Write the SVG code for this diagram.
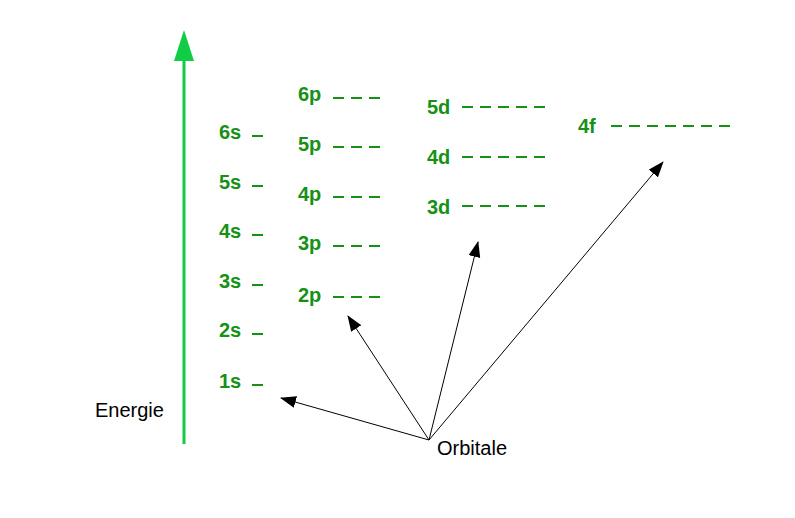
<svg xmlns="http://www.w3.org/2000/svg" width="795" height="518" viewBox="0 0 795 518">
<style>
.l{font-family:"Liberation Sans",Arial,sans-serif;font-weight:bold;font-size:20px;fill:#169116}
.d{stroke:#169116;stroke-width:2;stroke-dasharray:11 7}
.t{font-family:"Liberation Sans",Arial,sans-serif;font-size:20px;fill:#000}
.c{stroke:#000;stroke-width:1;marker-end:url(#ah)}
</style>
<defs>
<marker id="ah" markerWidth="16" markerHeight="12" refX="15" refY="6" orient="auto" markerUnits="userSpaceOnUse"><path d="M0,0 L16,6 L0,12 z" fill="#000"/></marker>
</defs>
<rect width="795" height="518" fill="#fff"/>
<g id="energy-axis">
<line x1="184" y1="444" x2="184" y2="58" stroke="#11cc44" stroke-width="3"/>
<polygon points="184,30 174,61 194,61" fill="#11cc44"/>
<text class="t" x="95" y="417">Energie</text>
</g>
<g id="s-levels">
<text class="l" x="219" y="139">6s</text><line class="d" x1="252" y1="136" x2="264" y2="136"/>
<text class="l" x="219" y="189">5s</text><line class="d" x1="252" y1="186" x2="264" y2="186"/>
<text class="l" x="219" y="238">4s</text><line class="d" x1="252" y1="235" x2="264" y2="235"/>
<text class="l" x="219" y="288">3s</text><line class="d" x1="252" y1="285" x2="264" y2="285"/>
<text class="l" x="219" y="337">2s</text><line class="d" x1="252" y1="334" x2="264" y2="334"/>
<text class="l" x="219" y="388">1s</text><line class="d" x1="252" y1="385" x2="264" y2="385"/>
</g>
<g id="p-levels">
<text class="l" x="298" y="101">6p</text><line class="d" x1="333" y1="98" x2="381" y2="98"/>
<text class="l" x="298" y="151">5p</text><line class="d" x1="333" y1="147" x2="381" y2="147"/>
<text class="l" x="298" y="201">4p</text><line class="d" x1="333" y1="197" x2="381" y2="197"/>
<text class="l" x="298" y="250">3p</text><line class="d" x1="333" y1="246" x2="381" y2="246"/>
<text class="l" x="298" y="302">2p</text><line class="d" x1="333" y1="297" x2="381" y2="297"/>
</g>
<g id="d-levels">
<text class="l" x="427" y="114">5d</text><line class="d" x1="462" y1="107" x2="545" y2="107"/>
<text class="l" x="427" y="164">4d</text><line class="d" x1="462" y1="157" x2="545" y2="157"/>
<text class="l" x="427" y="214">3d</text><line class="d" x1="462" y1="206" x2="545" y2="206"/>
</g>
<g id="f-levels">
<text class="l" x="578" y="133">4f</text><line class="d" x1="611" y1="126" x2="731" y2="126"/>
</g>
<g id="orbitale">
<text class="t" x="437" y="455">Orbitale</text>
</g>
<g id="connectors">
<line class="c" x1="429" y1="440" x2="281" y2="398"/>
<line class="c" x1="429" y1="440" x2="348" y2="316"/>
<line class="c" x1="429" y1="440" x2="478" y2="242"/>
<line class="c" x1="429" y1="440" x2="663" y2="162"/>
</g>
</svg>
